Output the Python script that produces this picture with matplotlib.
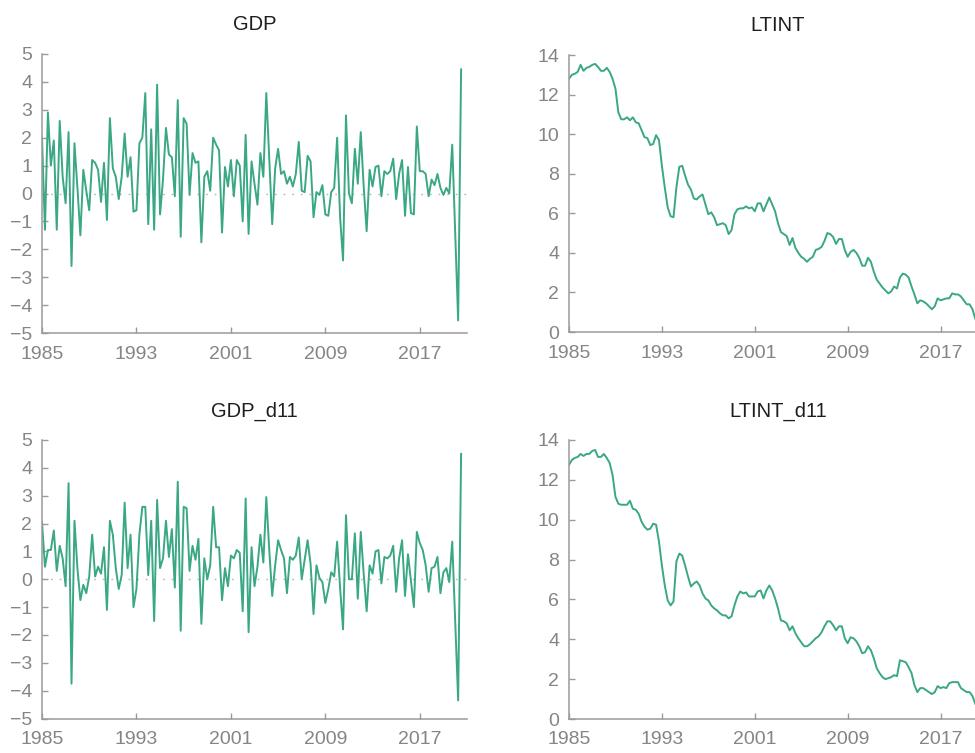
import matplotlib
matplotlib.use('Agg')
import matplotlib.pyplot as plt
import numpy as np

plt.rcParams['font.family'] = ['Liberation Sans', 'DejaVu Sans']

start_year = 1985
x_ticks = [1985, 1993, 2001, 2009, 2017]

titles = ['GDP', 'LTINT', 'GDP_d11', 'LTINT_d11']

gdp = [2.0, -1.3, 2.9, 1.0, 1.9, -1.3, 2.6, 0.6, -0.35, 2.2,
       -2.6, 1.8, 0.2, -1.5, 0.85, 0.1, -0.6, 1.2, 1.1, 0.85,
       -0.3, 1.1, -0.95, 2.7, 0.9, 0.6, -0.2, 0.6, 2.15, 0.6,
       1.3, -0.65, -0.6, 1.8, 2.0, 3.6, -1.1, 2.3, -1.3, 3.9,
       -0.75, 0.5, 2.35, 1.4, 1.3, -0.1, 3.35, -1.55, 2.7, 2.5,
       -0.05, 1.45, 1.1, 1.15, -1.75, 0.6, 0.8, 0.1, 2.0, 1.75,
       1.55, -1.4, 0.95, 0.25, 1.2,
       -0.1, 1.2, 1.0, -1.0, 2.1, -1.45, 1.15, 0.35, -0.4, 1.45,
       0.6, 3.6, 1.25, -1.1, 0.9, 1.6, 0.7, 0.8, 0.35, 0.6,
       0.25, 0.7, 1.85, 0.1, 0.05, 1.35, 1.15, -0.85, 0.05, -0.05,
       0.3, -0.75, -0.8, 0.05, 0.2, 2.0, -0.85, -2.4, 2.8, 0.0,
       -0.35, 1.6, 0.35, 2.2, 0.25, -1.35, 0.85, 0.25, 0.95, 1.0,
       -0.1, 0.8, 0.7, 0.8, 1.25, -0.2, 0.7, 1.2, -0.8, 0.95,
       -0.7, -0.75, 2.4, 0.8, 0.8, 0.7, -0.1, 0.5, 0.3, 0.7,
       0.2, -0.05, 0.2, 0.0, 1.75, -1.4, -4.55, 4.45]

gdp_d11 = [2.05, 0.45, 1.05, 1.05, 1.75, 0.3, 1.2, 0.75, -0.25, 3.45,
           -3.75, 2.1, 0.4, -0.75, -0.2, -0.5, 0.1, 1.6, 0.1, 0.45,
           0.2, 1.15, -1.1, 2.1, 1.6, 0.4, -0.35, 0.15, 2.75, 0.4,
           1.6, -1.0, -0.35, 1.6, 2.6, 2.6, 0.15, 2.1, -1.5, 2.85,
           0.4, 0.75, 2.1, 0.8, 1.8, -0.3, 3.5, -1.85, 2.6, 2.55,
           0.3, 1.2, 0.7, 1.45, -1.6, 0.75, 0.0, 0.5, 2.6, 1.15,
           1.15, -0.75, 0.4, -0.25, 0.85, 0.75, 1.05, 0.95, -1.15, 2.9,
           -1.9, 1.15, -0.25, 0.45, 1.6, 0.6, 2.95, 1.05, -0.6, 0.5,
           1.4, 1.05, 0.75, -0.5, 0.8, 0.7, 0.85, 1.5, 0.0, 0.7,
           1.4, 0.55, -1.25, 0.5, 0.05, -0.1, -0.85, -0.35, 0.25, 0.1,
           1.35, -0.3, -1.8, 2.3, 0.0, 0.0, 1.65, -0.7, 1.7, 0.2,
           -1.15, 0.5, 0.2, 1.0, 1.05, -0.15, 0.8, 0.75, 0.85, 1.2,
           -0.45, 0.75, 1.4, -0.6, 0.9, -0.05, -1.0, 1.7, 1.3, 1.05,
           0.5, -0.45, 0.4, 0.45, 0.8, -0.5, 0.25, 0.4, -0.1, 1.35,
           -1.5, -4.35, 4.5]

ltint = [12.8, 13.0, 13.05, 13.15, 13.5, 13.2, 13.35, 13.4, 13.5, 13.55,
         13.4, 13.2, 13.2, 13.35, 13.15, 12.8, 12.3, 11.1, 10.75, 10.75,
         10.85, 10.7, 10.85, 10.6, 10.55, 10.2, 9.85, 9.8, 9.45, 9.5,
         9.95, 9.7, 8.4, 7.3, 6.3, 5.85, 5.8, 7.3, 8.35, 8.4,
         7.9, 7.45, 7.2, 6.75, 6.7, 6.85, 6.95, 6.45, 5.95, 6.05,
         5.8, 5.4, 5.45, 5.5, 5.4, 4.95, 5.15, 5.95, 6.2, 6.25,
         6.25, 6.35, 6.25, 6.3, 6.1, 6.5, 6.5, 6.1, 6.45, 6.8,
         6.45, 6.1, 5.5, 5.05, 4.95, 4.85, 4.4, 4.75, 4.25, 4.0,
         3.8, 3.7, 3.55, 3.7, 3.8, 4.15, 4.2, 4.3, 4.6, 5.0,
         4.95, 4.8, 4.45, 4.7, 4.7, 4.15, 3.8, 4.05, 4.15, 4.0,
         3.75, 3.35, 3.35, 3.75, 3.55, 3.05, 2.65, 2.45, 2.25, 2.1,
         1.95, 2.05, 2.3, 2.2, 2.75, 2.95, 2.9, 2.75, 2.3, 1.9,
         1.45, 1.6, 1.55, 1.45, 1.3, 1.15, 1.3, 1.7, 1.6, 1.65,
         1.7, 1.7, 1.95, 1.9, 1.9, 1.8, 1.6, 1.4, 1.4, 1.15,
         0.65, 0.5, 0.4]

ltint_d11 = [12.75, 13.0, 13.1, 13.15, 13.3, 13.2, 13.3, 13.3, 13.45, 13.5,
             13.15, 13.15, 13.3, 13.1, 12.85, 12.25, 11.15, 10.8, 10.75, 10.75,
             10.75, 10.95, 10.55, 10.5, 10.3, 9.9, 9.65, 9.5, 9.55, 9.8,
             9.75, 8.9, 7.7, 6.7, 5.95, 5.7, 5.9, 7.9, 8.3, 8.2,
             7.7, 7.15, 6.65, 6.8, 6.9, 6.7, 6.3, 6.05, 5.95, 5.7,
             5.55, 5.45, 5.3, 5.2, 5.2, 5.05, 5.15, 5.7, 6.15, 6.4,
             6.3, 6.35, 6.15, 6.15, 6.15, 6.4, 6.45, 6.05, 6.45, 6.7,
             6.45, 6.05, 5.55, 4.95, 4.9, 4.8, 4.45, 4.65, 4.3, 4.05,
             3.85, 3.65, 3.65, 3.75, 3.9, 4.05, 4.15, 4.35, 4.65, 4.9,
             4.9, 4.7, 4.45, 4.65, 4.65, 4.05, 3.8, 4.1, 4.05, 3.9,
             3.65, 3.3, 3.35, 3.65, 3.45, 3.05, 2.55, 2.3, 2.1, 2.0,
             2.05, 2.1, 2.2, 2.15, 2.95, 2.9, 2.85, 2.6, 2.3, 1.7,
             1.35, 1.55, 1.55, 1.45, 1.35, 1.25, 1.35, 1.65, 1.55, 1.6,
             1.55, 1.8, 1.85, 1.85, 1.85, 1.55, 1.45, 1.35, 1.35, 1.15,
             0.75, 0.5, 0.4]

LINE = '#3aa785'
GRAY = '#9a9a9a'
LABEL = '#858585'

fig = plt.figure(figsize=(9.75, 7.53), dpi=100)
W, H = 975.0, 753.0

def make_axes(x0, x1, ytop, ybot):
    return fig.add_axes([x0 / W, 1 - ybot / H, (x1 - x0) / W, (ybot - ytop) / H])

axes = [make_axes(42, 467, 54, 333), make_axes(569, 987, 55, 332),
        make_axes(42, 467, 440, 718.5), make_axes(569, 987, 440, 719)]
series = [gdp, ltint, gdp_d11, ltint_d11]

for i, (ax, y, title) in enumerate(zip(axes, series, titles)):
    x = start_year + np.arange(len(y)) / 4.0
    is_gdp = (i % 2 == 0)
    if is_gdp:
        ax.axhline(0, color='#b5b5b5', lw=1.0, linestyle=(0, (1.2, 5)), zorder=1)
        ax.set_ylim(-5, 5)
        ax.set_yticks(np.arange(-5, 6, 1))
    else:
        ax.set_ylim(0, 14)
        ax.set_yticks(np.arange(0, 15, 2))
    ax.plot(x, y, color=LINE, lw=1.4, zorder=2)
    ax.set_xlim(1985, 2021)
    ax.set_xticks(x_ticks)
    for s in ['top', 'right']:
        ax.spines[s].set_visible(False)
    for s in ['left', 'bottom']:
        ax.spines[s].set_color(GRAY)
        ax.spines[s].set_linewidth(1.1)
    ax.tick_params(direction='in', length=4, width=1.0, color=GRAY,
                   labelcolor=LABEL, labelsize=14)
    ax.tick_params(axis='y', pad=7)
    ax.tick_params(axis='x', pad=9)
    ax.set_title(title, fontsize=14.5, color='#1e1e1e', pad=17)

fig.savefig('out.png', dpi=100)
